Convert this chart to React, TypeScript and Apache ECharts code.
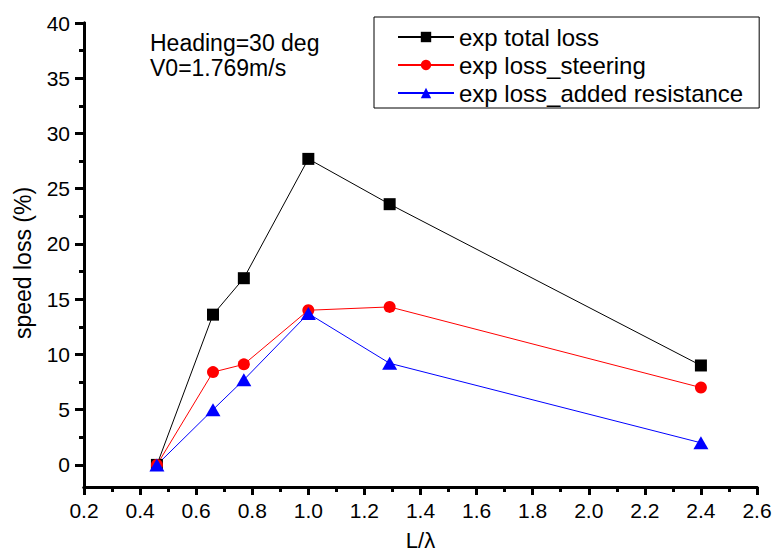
import React, { useEffect, useRef } from "react";
import * as echarts from "echarts";

const xValues = [0.46, 0.66, 0.77, 1.0, 1.29, 2.4];
const totalLoss = [0, 13.6, 16.9, 27.7, 23.6, 9.0];
const steeringLoss = [0, 8.4, 9.1, 14.0, 14.3, 7.0];
const addedResistanceLoss = [0, 5.0, 7.7, 13.7, 9.2, 2.0];
const seriesNames = ["exp total loss", "exp loss_steering", "exp loss_added resistance"];
const yMajorTicks = [0, 5, 10, 15, 20, 25, 30, 35, 40];
const yMinorTicks = [2.5, 7.5, 12.5, 17.5, 22.5, 27.5, 32.5, 37.5];
const annotationLines = ["Heading=30 deg", "V0=1.769m/s"];

const FONT = "'Liberation Sans', Arial, sans-serif";
const AXIS_COLOR = "#000000";
const GRID = { left: 84, right: 18, top: 23, bottom: 66, outerBoundsMode: "none" };

function pairs(ys: number[]) {
  return xValues.map((x, i) => [x, ys[i]]);
}

function axisFrameOption() {
  return {
    animation: false,
    backgroundColor: "transparent",
    grid: { ...GRID },
    xAxis: {
      type: "value",
      min: 0.2,
      max: 2.6,
      interval: 0.2,
      axisLine: { show: true, onZero: false, lineStyle: { color: AXIS_COLOR, width: 3 } },
      axisTick: { show: true, length: 8, lineStyle: { color: AXIS_COLOR, width: 3 } },
      minorTick: { show: true, splitNumber: 2, length: 5, lineStyle: { color: AXIS_COLOR, width: 3 } },
      axisLabel: { show: false },
      splitLine: { show: false },
    },
    yAxis: [
      {
        type: "value",
        min: -2,
        max: 40,
        axisLine: { show: true, onZero: false, lineStyle: { color: AXIS_COLOR, width: 3 } },
        axisTick: { show: true, length: 9, customValues: yMajorTicks, lineStyle: { color: AXIS_COLOR, width: 3 } },
        axisLabel: { show: false },
        splitLine: { show: false },
      },
      {
        type: "value",
        min: -2,
        max: 40,
        position: "left",
        axisLine: { show: false, onZero: false },
        axisTick: { show: true, length: 5, customValues: yMinorTicks, lineStyle: { color: AXIS_COLOR, width: 3 } },
        axisLabel: { show: false },
        splitLine: { show: false },
      },
    ],
    series: [{ type: "line", data: [], silent: true }],
  };
}

export default function App() {
  const ref = useRef<HTMLDivElement>(null);
  const frameRef = useRef<HTMLDivElement>(null);
  useEffect(() => {
    if (!ref.current || !frameRef.current) return;
    const chart = echarts.init(ref.current, null, { renderer: "svg" });
    chart.setOption({
      animation: false,
      backgroundColor: "#fff",
      grid: { ...GRID },
      xAxis: {
        type: "value",
        min: 0.2,
        max: 2.6,
        interval: 0.2,
        axisLine: { show: true, onZero: false, lineStyle: { color: AXIS_COLOR, width: 3 } },
        splitLine: { show: false },
        axisTick: { show: true, length: 8, lineStyle: { color: AXIS_COLOR, width: 3 } },
        minorTick: { show: true, splitNumber: 2, length: 5, lineStyle: { color: AXIS_COLOR, width: 3 } },
        axisLabel: {
          margin: 13,
          color: "#000",
          fontSize: 21,
          fontFamily: FONT,
          formatter: (v: number) => v.toFixed(1),
        },
        name: "L/λ",
        nameLocation: "middle",
        nameGap: 42,
        nameTextStyle: { color: "#000", fontSize: 22, fontFamily: FONT },
      },
      yAxis: [
        {
          type: "value",
          min: -2,
          max: 40,
          axisLine: { show: true, onZero: false, lineStyle: { color: AXIS_COLOR, width: 3 } },
          splitLine: { show: false },
          axisTick: {
            show: true,
            length: 9,
            customValues: yMajorTicks,
            lineStyle: { color: AXIS_COLOR, width: 3 },
          },
          axisLabel: {
            margin: 14,
            color: "#000",
            fontSize: 21,
            fontFamily: FONT,
            customValues: yMajorTicks,
          },
          name: "speed loss (%)",
          nameLocation: "middle",
          nameGap: 50,
          nameTextStyle: { color: "#000", fontSize: 23, fontFamily: FONT, padding: [0, 16, 0, 0] },
        },
        {
          type: "value",
          min: -2,
          max: 40,
          position: "left",
          axisLine: { show: false, onZero: false },
          splitLine: { show: false },
          axisTick: {
            show: true,
            length: 5,
            customValues: yMinorTicks,
            lineStyle: { color: AXIS_COLOR, width: 3 },
          },
          axisLabel: { show: false },
        },
      ],
      legend: {
        orient: "vertical",
        left: 374,
        top: 17,
        padding: [8, 16, 3, 23],
        itemGap: 4,
        itemWidth: 56,
        itemHeight: 13,
        borderColor: "#000",
        borderWidth: 1,
        backgroundColor: "#fff",
        textStyle: { color: "#000", fontSize: 24, fontFamily: FONT, lineHeight: 24 },
        data: seriesNames,
      },
      graphic: [
        {
          type: "text",
          left: 150,
          top: 30,
          style: {
            text: annotationLines.join("\n"),
            fill: "#000",
            font: `23px ${FONT}`,
            lineHeight: 25,
          },
        },
      ],
      series: [
        {
          name: seriesNames[0],
          type: "line",
          data: pairs(totalLoss),
          symbol: "rect",
          symbolSize: 12,
          lineStyle: { color: "#000", width: 1 },
          itemStyle: { color: "#000" },
        },
        {
          name: seriesNames[1],
          type: "line",
          data: pairs(steeringLoss),
          symbol: "circle",
          symbolSize: 12,
          lineStyle: { color: "#ff0000", width: 1 },
          itemStyle: { color: "#ff0000" },
        },
        {
          name: seriesNames[2],
          type: "line",
          data: pairs(addedResistanceLoss),
          symbol: "triangle",
          symbolSize: [15, 13],
          lineStyle: { color: "#0000ff", width: 1 },
          itemStyle: { color: "#0000ff" },
        },
      ],
    });
    const frame = echarts.init(frameRef.current, null, { renderer: "svg" });
    frame.setOption(axisFrameOption());
    return () => {
      chart.dispose();
      frame.dispose();
    };
  }, []);
  return (
    <div style={{ position: "fixed", left: 0, top: 0, width: 775, height: 553, background: "#fff" }}>
      <div ref={ref} style={{ position: "absolute", left: 0, top: 0, width: 775, height: 553 }} />
      <div
        ref={frameRef}
        style={{ position: "absolute", left: 0, top: 0, width: 775, height: 553, pointerEvents: "none" }}
      />
    </div>
  );
}
